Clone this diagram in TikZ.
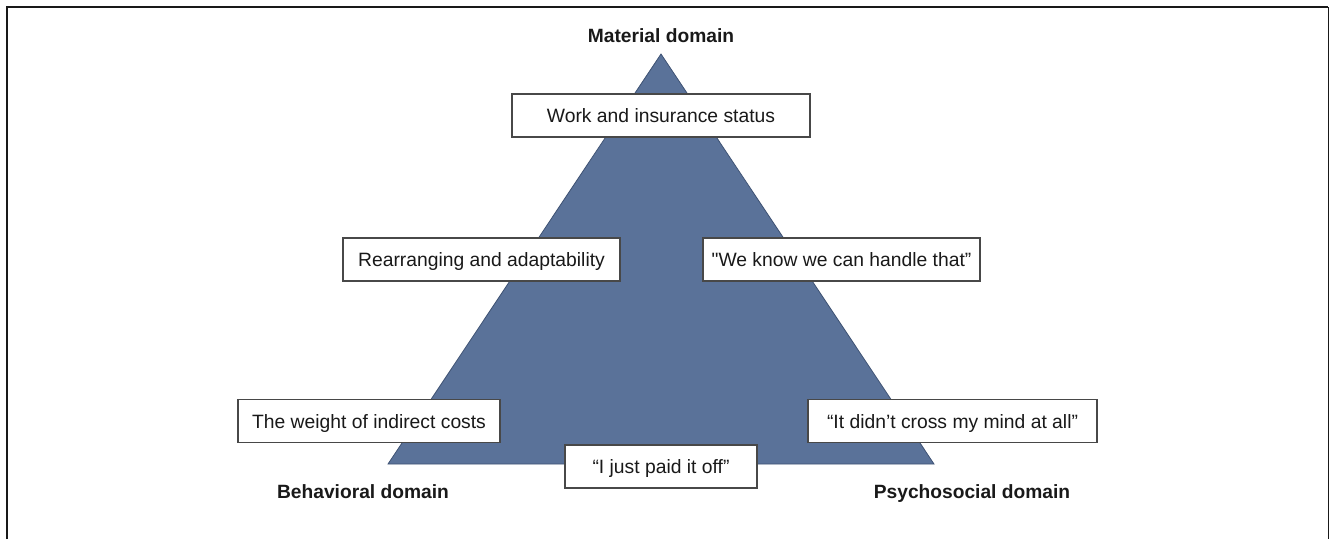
\documentclass[tikz,border=0pt]{standalone}
\usepackage{fontspec}
\setmainfont{Liberation Sans}
% same family without TeX ligatures, so that " stays a straight quote
\newfontfamily\straightquote{Liberation Sans}
\definecolor{triblue}{RGB}{90,114,153}
\definecolor{triedge}{RGB}{62,82,115}
\definecolor{boxedge}{RGB}{72,72,72}
\definecolor{inkc}{RGB}{25,25,25}
\begin{document}
\begin{tikzpicture}[x=1pt,y=-1pt,
  quotebox/.style={draw=boxedge, line width=1.3pt, fill=white, inner sep=0pt,
    minimum height=43pt, text height=14pt, text depth=0pt, text=inkc,
    font=\fontsize{19.3}{23}\selectfont},
  domainlabel/.style={anchor=base, inner sep=0pt, text=inkc,
    font=\fontsize{19.2}{23}\selectfont\bfseries}]
\useasboundingbox (0,0) rectangle (1329,539);

% outer frame
\draw[line width=2pt, inkc] (7,539) -- (7,7) -- (1328,7);
\draw[line width=1pt, inkc] (1328,7) -- (1328,539);

% the triangle of domains
\coordinate (apex) at (661,54);
\coordinate (bl) at (388,464);
\coordinate (br) at (934,464);
\filldraw[fill=triblue, draw=triedge, line width=0.8pt] (apex) -- (bl) -- (br) -- cycle;

% domain names at the corners
\node[domainlabel] (material) at (661,42) {Material domain};
\node[domainlabel] (behavioral) at (363,498) {Behavioral domain};
\node[domainlabel] (psychosocial) at (972,498) {Psychosocial domain};

% theme boxes
\node[quotebox, minimum width=298pt] (work) at (661,115.5) {Work and insurance status};
\node[quotebox, minimum width=277pt] (rearr) at (481.5,259.5) {Rearranging and adaptability};
\node[quotebox, minimum width=277pt] (handle) at (841.5,259.5) {{\straightquote"}We know we can handle that”};
\node[quotebox, minimum width=262pt] (weight) at (369,421) {The weight of indirect costs};
\node[quotebox, minimum width=289pt] (mind) at (952.5,421) {“It didn’t cross my mind at all”};
\node[quotebox, minimum width=192pt] (paid) at (661,466.5) {“I just paid it off”};
\end{tikzpicture}
\end{document}
